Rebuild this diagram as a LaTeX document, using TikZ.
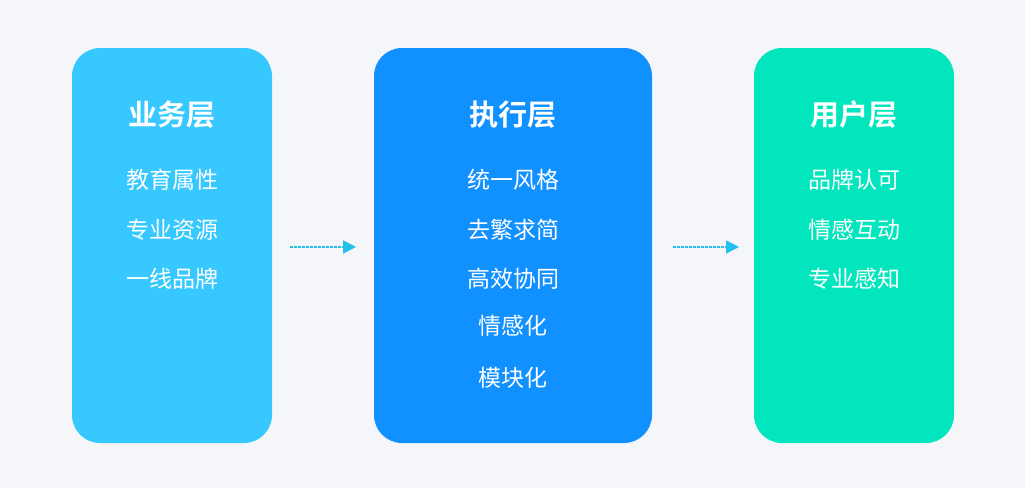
\documentclass[tikz,border=0pt]{standalone}
\usepackage{fontspec}
\newfontfamily\cjk{Noto Sans CJK SC}[BoldFont={Noto Sans CJK SC Bold}]
\usetikzlibrary{arrows.meta}
\definecolor{bg}{HTML}{F5F6FA}
\definecolor{cA}{HTML}{36C8FF}
\definecolor{cB}{HTML}{1190FF}
\definecolor{cC}{HTML}{02E6BE}
\definecolor{arr}{HTML}{22C0EA}
\begin{document}
\begin{tikzpicture}[x=1pt,y=-1pt,
  panel/.style={rounded corners=28pt,inner sep=0pt},
  ttl/.style={text=white,font=\cjk\bfseries\fontsize{29}{32}\selectfont},
  itm/.style={text=white,font=\cjk\fontsize{23}{26}\selectfont},
  flow/.style={arr,line width=1.6pt,dash pattern=on 2.5pt off 1.5pt,-{Triangle[length=13pt,width=13pt]}}]
\fill[bg] (0,0) rectangle (1025,488);
\path[use as bounding box] (0,0) rectangle (1025,488);
\fill[cA,panel] (72,48) rectangle (272,443);
\fill[cB,panel] (374,48) rectangle (652,443);
\fill[cC,panel] (754,48) rectangle (954,443);
\node[ttl] (t1) at (172,115) {业务层};
\node[itm] (a1) at (172,180) {教育属性};
\node[itm] (a2) at (172,230) {专业资源};
\node[itm] (a3) at (172,279) {一线品牌};
\node[ttl] (t2) at (513,115) {执行层};
\node[itm] (b1) at (513,180) {统一风格};
\node[itm] (b2) at (513,230) {去繁求简};
\node[itm] (b3) at (513,279) {高效协同};
\node[itm] (b4) at (513,326) {情感化};
\node[itm] (b5) at (513,378) {模块化};
\node[ttl] (t3) at (854,115) {用户层};
\node[itm] (c1) at (854,180) {品牌认可};
\node[itm] (c2) at (854,230) {情感互动};
\node[itm] (c3) at (854,279) {专业感知};
\coordinate (p1) at (290,247); \coordinate (q1) at (356,247);
\coordinate (p2) at (673,247); \coordinate (q2) at (739,247);
\draw[flow] (p1) -- (q1);
\draw[flow] (p2) -- (q2);
\end{tikzpicture}
\end{document}
